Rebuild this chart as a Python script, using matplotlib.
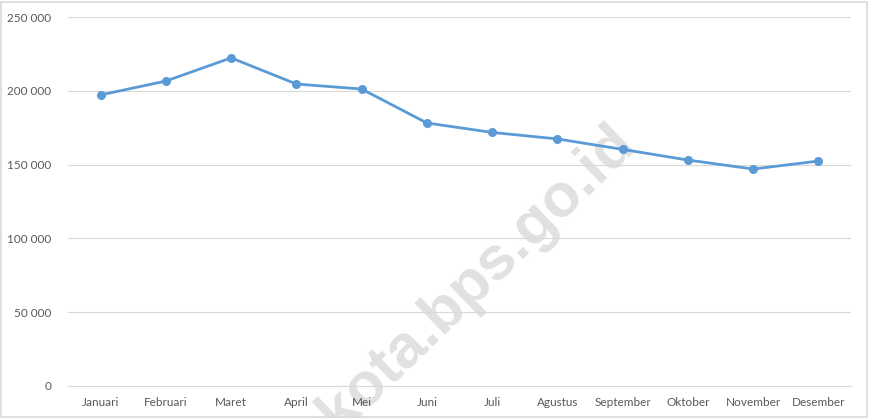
import matplotlib
matplotlib.use("Agg")
import matplotlib.pyplot as plt
from matplotlib.patches import Rectangle
from matplotlib.ticker import FuncFormatter

months = ['Januari', 'Februari', 'Maret', 'April', 'Mei', 'Juni',
          'Juli', 'Agustus', 'September', 'Oktober', 'November', 'Desember']
values = [197200, 206600, 222300, 204600, 201200, 178200,
          171800, 167400, 160300, 153100, 147000, 152400]
y_ticks = [0, 50000, 100000, 150000, 200000, 250000]

plt.rcParams['font.family'] = ['Lato', 'DejaVu Sans']

fig = plt.figure(figsize=(8.69, 4.18), dpi=100)
ax = fig.add_axes([68 / 869, 1 - 386 / 418, (851 - 68) / 869, (386 - 17) / 418])

# watermark behind everything
fig.text(637 / 869, 1 - 145 / 418, 'ngkota.bps.go.id', fontsize=44,
         fontweight='bold', family='Liberation Sans', color='#e1e1e1',
         rotation=44, rotation_mode='anchor', ha='right', va='baseline',
         zorder=0)
ax.set_facecolor('none')
ax.set_zorder(1)

x = list(range(len(months)))
ax.plot(x, values, color='#5b9bd5', linewidth=2.0, marker='o',
        markersize=5.5, zorder=3)

ax.set_xlim(-0.5, len(months) - 0.5)
ax.set_ylim(0, 250000)
ax.set_yticks(y_ticks)
ax.yaxis.set_major_formatter(FuncFormatter(lambda v, p: f'{int(v):,}'.replace(',', ' ')))
ax.set_xticks(x)
ax.set_xticklabels(months)
ax.grid(axis='y', color='#d9d9d9', linewidth=0.8)
ax.set_axisbelow(True)
for s in ['top', 'right', 'left']:
    ax.spines[s].set_visible(False)
ax.spines['bottom'].set_color('#d9d9d9')
ax.spines['bottom'].set_linewidth(0.8)
ax.tick_params(length=0, labelsize=8.5, labelcolor='#595959')
ax.tick_params(axis='y', pad=12)
ax.tick_params(axis='x', pad=8)

# light frame around the chart area
fig.patches.append(Rectangle((1 / 869, 1 / 418), 866 / 869, 415 / 418,
                             transform=fig.transFigure, fill=False,
                             edgecolor='#d9d9d9', linewidth=1.2))

fig.savefig('out.png', dpi=100)
